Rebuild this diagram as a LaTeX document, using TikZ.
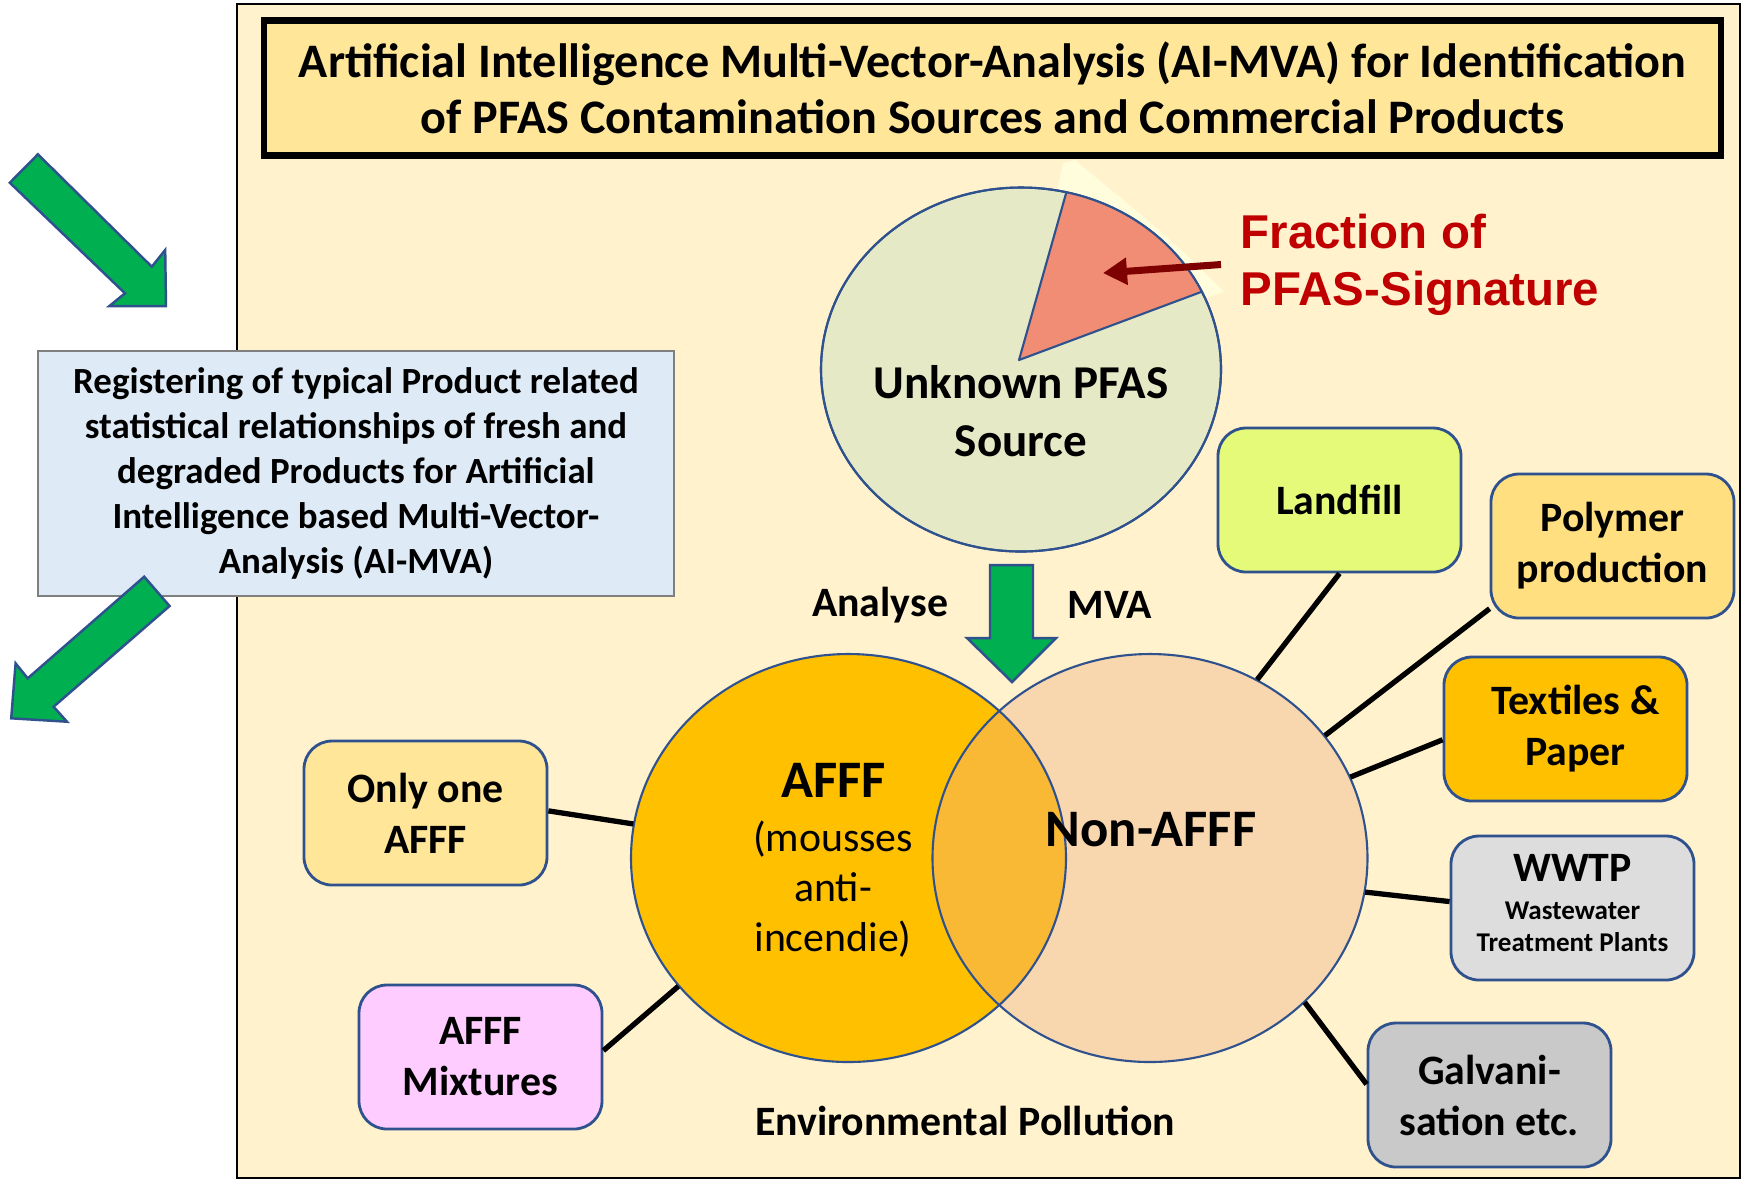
\documentclass[tikz,border=0pt]{standalone}
\usepackage{fontspec}
\setmainfont{Carlito}
\newfontfamily\arialfont{Liberation Sans}
\usetikzlibrary{arrows.meta,positioning,shapes.geometric}

\definecolor{framefill}{HTML}{FFF2CC}
\definecolor{titlefill}{HTML}{FFE699}
\definecolor{regblue}{HTML}{DEEBF7}
\definecolor{boxgray}{HTML}{7F7F7F}
\definecolor{edgeblue}{HTML}{2F528F}
\definecolor{pfasgreen}{HTML}{00B050}
\definecolor{unknownfill}{HTML}{E5E9C5}
\definecolor{slicefill}{HTML}{F08D74}
\definecolor{ghostfill}{HTML}{FFFDDC}
\definecolor{affffill}{HTML}{FFC000}
\definecolor{nonafffill}{HTML}{F8D6AE}
\definecolor{overlapfill}{HTML}{F9B935}
\definecolor{signred}{HTML}{C00000}
\definecolor{arrowred}{HTML}{7F0000}
\definecolor{landfillfill}{HTML}{E6FA7A}
\definecolor{polymerfill}{HTML}{FFDF80}
\definecolor{wwtpfill}{HTML}{DDDDDD}
\definecolor{galvanifill}{HTML}{C9C9C9}
\definecolor{mixfill}{HTML}{FFCCFF}

\newcommand{\smalltxt}{\fontsize{7.7}{9.1}\selectfont}

\begin{document}
\begin{tikzpicture}[x=0.1mm,y=-0.1mm,on grid,
    every node/.style={font=\bfseries},
    box/.style={draw=edgeblue,line width=0.8pt,rounded corners=2.8mm,
                minimum width=24.3mm,minimum height=14.4mm,align=center,
                font=\bfseries\fontsize{11.9}{14.5}\selectfont},
    set/.style={ellipse,inner sep=0pt,minimum width=43.5mm,minimum height=40.8mm},
    link/.style={line width=1.5pt},
    blockarrow/.style={fill=pfasgreen,draw=edgeblue,line width=0.7pt,line join=miter}]

    \useasboundingbox (0,0) rectangle (1747,1181);
    \fill[white] (0,0) rectangle (1747,1181);

    % frame and title
    \draw[fill=framefill,line width=0.7pt] (237,4) rectangle (1740,1178);
    \node[draw,line width=1.8pt,fill=titlefill,minimum width=145.7mm,minimum height=13.5mm,
          align=center,font=\bfseries\fontsize{13.7}{15.8}\selectfont] (title) at (992.5,88)
        {Artificial Intelligence Multi-Vector-Analysis (AI-MVA) for Identification\\
         of PFAS Contamination Sources and Commercial Products};

    % registering box with green arrows
    \node[draw=boxgray,line width=0.7pt,fill=regblue,minimum width=63.6mm,minimum height=24.5mm,
          align=center,font=\bfseries\fontsize{10.5}{12.8}\selectfont] (reg) at (356,473.5)
        {Registering of typical Product related\\statistical relationships of fresh and\\
         degraded Products for Artificial\\Intelligence based Multi-Vector-\\Analysis (AI-MVA)};
    \draw[blockarrow] (9.8,182.7) -- (125,293.3) -- (109.4,306) -- (166,306)
        -- (165.2,250) -- (151.8,266.7) -- (37.9,154.3) -- cycle;
    \draw[blockarrow] (144.2,576.7) -- (169.6,606) -- (53.6,706.7) -- (67,721.7)
        -- (11.2,718.3) -- (15.6,663.3) -- (27.7,678.3) -- cycle;

    % unknown source with signature slice
    \fill[ghostfill] (1019,360) -- (1063,163) -- (1075,160)
        .. controls (1110,190) and (1170,235) .. (1224,292) -- cycle;
    \node[ellipse,draw=edgeblue,semithick,fill=unknownfill,inner sep=0pt,
          minimum width=40mm,minimum height=36.4mm] (unknown) at (1021,369.5) {};
    \begin{scope}
        \clip (unknown.center) ellipse [x radius=20mm,y radius=18.2mm];
        \fill[slicefill] (1019,360) -- (1091,105) -- (1300,105) -- (1292,258) -- cycle;
        \draw[edgeblue,semithick,line join=round] (1091,105) -- (1019,360) -- (1292,258);
    \end{scope}
    \draw[edgeblue,semithick] (unknown.center) ellipse [x radius=20mm,y radius=18.2mm];
    \node[font=\bfseries\fontsize{13.4}{16.5}\selectfont,align=center] (unknownlabel) at (1021,411)
        {Unknown PFAS\\Source};

    \node[anchor=west,inner sep=0pt,align=left,text=signred,
          font=\arialfont\bfseries\fontsize{13.5}{16.2}\selectfont] (signature) at (1240,264.5)
        {Fraction of\\PFAS-Signature};
    \coordinate (slicept) at (1103,273);
    \draw[arrowred,line width=2pt,-{Triangle[length=2.4mm,width=2.6mm]}]
        ([xshift=-1.9mm]signature.west) -- (slicept);

    % analysis arrow
    \draw[blockarrow] (990,565) -- (1033,565) -- (1033,638) -- (1056,638)
        -- (1012,682) -- (967,638) -- (990,638) -- cycle;
    \node[font=\bfseries\fontsize{11.9}{14}\selectfont] (analyse) at (880,605) {Analyse};
    \node[font=\bfseries\fontsize{11.9}{14}\selectfont,right=23mm of analyse] (mva) {MVA};

    % venn
    \node[set,fill=affffill] (afff) at (848.5,858) {};
    \node[set,fill=nonafffill,right=30.15mm of afff] (nonafff) {};
    \begin{scope}
        \clip (afff.center) ellipse [x radius=21.75mm,y radius=20.4mm];
        \fill[overlapfill] (nonafff.center) ellipse [x radius=21.75mm,y radius=20.4mm];
    \end{scope}
    \draw[edgeblue,semithick] (afff.center) ellipse [x radius=21.75mm,y radius=20.4mm]
        (nonafff.center) ellipse [x radius=21.75mm,y radius=20.4mm];
    \node[font=\bfseries\fontsize{15}{18}\selectfont] (affflabel) at (833.5,780) {AFFF};
    \node[font=\fontsize{11.9}{14.3}\selectfont,align=center] (mousses) at (833,889)
        {(mousses\\anti-\\incendie)};
    \node[font=\bfseries\fontsize{15}{18}\selectfont] (nonafflabel) at (1151,830) {Non-AFFF};

    % sources
    \node[box,fill=landfillfill] (landfill) at (1339.5,500) {Landfill};
    \node[box,fill=polymerfill] (polymer) at (1612.5,546) {Polymer\\production};
    \node[box,fill=affffill] (textiles) at (1565.5,729) {\hspace*{2mm}Textiles \&\\\hspace*{2mm}Paper};
    \node[box,fill=wwtpfill] (wwtp) at (1572.5,908)
        {WWTP\\[-3.6pt]\smalltxt\begin{tabular}[t]{@{}c@{}}Wastewater\\Treatment Plants\end{tabular}};
    \node[box,fill=galvanifill] (galvani) at (1489.5,1095) {Galvani-\\sation etc.};
    \node[box,fill=titlefill] (onlyone) at (425.5,813) {Only one\\AFFF};
    \node[box,fill=mixfill] (mixtures) at (480.5,1057) {AFFF\\Mixtures};

    \draw[link] (landfill.south) -- (nonafff.59);
    \draw[link] (polymer.207) -- (nonafff.35.5);
    \draw[link] (textiles.185) -- (nonafff.22.6);
    \draw[link] (wwtp.177) -- (nonafff.-9);
    \draw[link] (galvani.175) -- (nonafff.-43);
    \draw[link] (onlyone.1) -- (afff.171);
    \draw[link] (mixtures.3.5) -- (afff.-143);

    \node[font=\bfseries\fontsize{11.9}{14}\selectfont] (pollution) at (965,1121) {Environmental Pollution};
\end{tikzpicture}
\end{document}
